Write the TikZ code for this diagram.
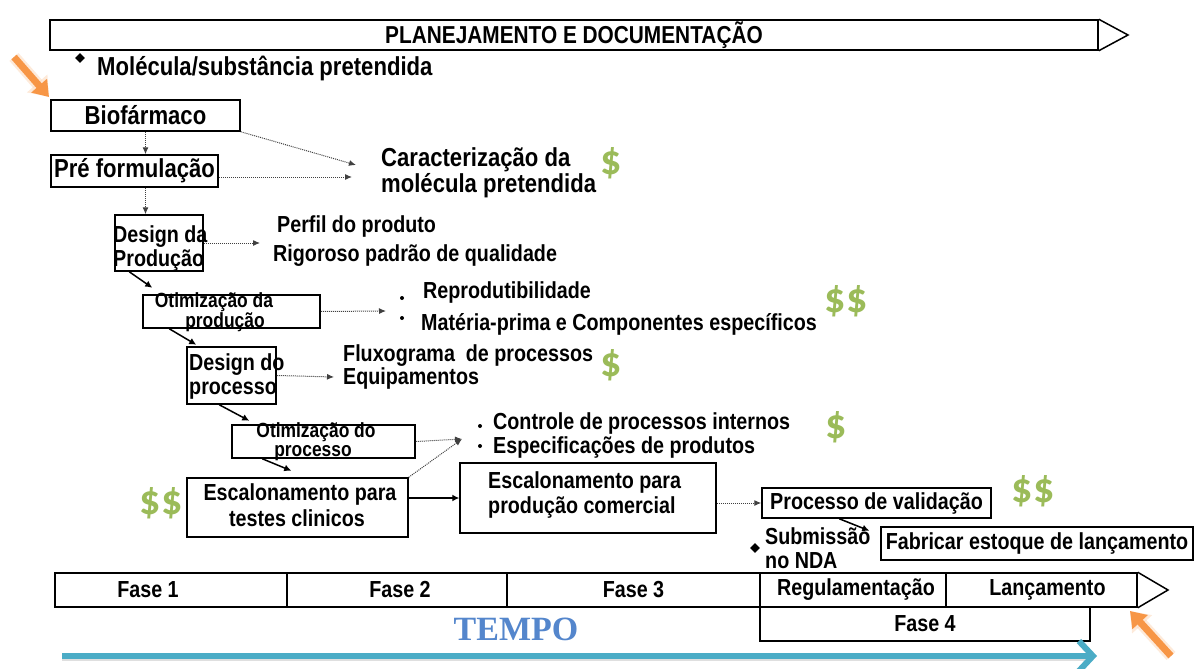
\documentclass[tikz,border=0pt]{standalone}
\usepackage{fontspec}
\setmainfont{Liberation Sans}[FakeStretch=0.85]
\newfontfamily\tempofont{Liberation Serif}
\newfontfamily\dolfont{Carlito}
\usetikzlibrary{arrows.meta,shapes.geometric}
\definecolor{dgreen}{RGB}{155,187,89}
\definecolor{orng}{RGB}{247,150,70}
\definecolor{tealb}{RGB}{75,172,198}
\definecolor{tempoblue}{RGB}{84,134,204}
\newcommand\fbig{\fontsize{26}{27}\selectfont\bfseries}
\newcommand\fmid{\fontsize{23.2}{24}\selectfont\bfseries}
\newcommand\fsma{\fontsize{20.5}{18}\selectfont\bfseries}
\begin{document}
\begin{tikzpicture}[x=1pt,y=-1pt,
  box/.style={draw=black, line width=1.5pt, inner sep=0pt, align=center},
  txt/.style={inner sep=0pt, anchor=base west, font=\fmid},
  ctxt/.style={inner sep=0pt, anchor=base, font=\fmid},
  dotarr/.style={draw=black!75, line width=1pt, densely dotted, -{Latex[length=7pt,width=6pt]}},
  solarr/.style={draw=black, line width=1.5pt, -{Latex[length=7pt,width=7pt]}},
  dol/.style={text=dgreen, inner sep=0pt, font=\dolfont\fontsize{42}{42}\selectfont\bfseries},
  bul/.style={circle, fill=black, inner sep=0pt, minimum size=4pt},
  dia/.style={diamond, fill=black, inner sep=0pt, minimum size=10pt},
  orarrow/.style={orng, line width=7pt, -{Triangle[length=15pt,width=20pt]}},
  glow/.style={orng!40, line width=12pt, opacity=0.5, -{Triangle[length=18pt,width=26pt]}}
]
\useasboundingbox (0,0) rectangle (1195,669);

% top banner
\node[box, minimum width=1048pt, minimum height=30pt, font=\fontsize{24.5}{25}\selectfont\bfseries] (plan) at (574,35) {PLANEJAMENTO E DOCUMENTAÇÃO};
\coordinate (plantip) at (1128,35);
\draw[line width=1.5pt, line join=miter] (plan.north east) -- (plantip) -- (plan.south east);

\node[dia] (d1) at (80,58) {};
\node[txt, font=\fbig] (mol) at (97,76) {Molécula/substância pretendida};

% orange arrows
\coordinate (oa1s) at (14,57);
\coordinate (oa1e) at (49,97);
\draw[glow] (oa1s) -- (oa1e);
\draw[orarrow] (oa1s) -- (oa1e);

% left chain
\node[box, minimum width=189pt, minimum height=31pt, font=\fbig] (bio) at (145.5,115.5) {Biofármaco};
\node[box, minimum width=167pt, minimum height=32pt, font=\fbig] (pre) at (134.5,171) {Pré formulação};
\node[box, minimum width=88pt, minimum height=56pt] (desp) at (159,243) {};
\node[txt] (despt1) at (113,242) {Design da};
\node[txt] (despt2) at (113,266) {Produção};
\node[box, minimum width=177pt, minimum height=33pt] (otp) at (231.5,311.5) {};
\node[ctxt, font=\fsma] (otpt1) at (214,307) {Otimização da};
\node[ctxt, font=\fsma] (otpt2) at (225,327) {produção};
\node[box, minimum width=89pt, minimum height=57pt] (dpr) at (231.5,375.5) {};
\node[txt] (dprt1) at (189,370) {Design do};
\node[txt] (dprt2) at (189,394) {processo};
\node[box, minimum width=183pt, minimum height=33pt] (otc) at (323.5,441.5) {};
\node[ctxt, font=\fsma] (otct1) at (316,437) {Otimização do};
\node[ctxt, font=\fsma] (otct2) at (313,456) {processo};
\node[box, minimum width=221pt, minimum height=59pt] (esc) at (297.5,507.5) {};
\node[ctxt] (esct1) at (300,500) {Escalonamento para};
\node[ctxt] (esct2) at (297,526) {testes clinicos};
\node[box, minimum width=256pt, minimum height=70pt] (escc) at (588,498) {};
\node[txt] (escct1) at (488,488) {Escalonamento para};
\node[txt] (escct2) at (488,513) {produção comercial};
\node[box, minimum width=229pt, minimum height=30pt, font=\fmid] (val) at (876.5,503) {Processo de validação};
\node[box, minimum width=312pt, minimum height=33pt, font=\fmid] (fab) at (1037,543.5) {Fabricar estoque de lançamento};

% right texts
\node[txt, font=\fbig] (car1) at (381,166) {Caracterização da};
\node[txt, font=\fbig] (car2) at (381,192) {molécula pretendida};
\node[txt] (perf) at (277,232) {Perfil do produto};
\node[txt] (rig) at (273,261) {Rigoroso padrão de qualidade};
\node[bul] (b1) at (402,298) {};
\node[bul] (b2) at (402,318) {};
\node[txt] (rep) at (423,298) {Reprodutibilidade};
\node[txt] (mat) at (421,330) {Matéria-prima e Componentes específicos};
\node[txt] (flu) at (343,361) {Fluxograma\ \ de processos};
\node[txt] (equ) at (343,384) {Equipamentos};
\node[bul] (b3) at (480,426) {};
\node[bul] (b4) at (480,446) {};
\node[txt] (con) at (493,429) {Controle de processos internos};
\node[txt] (esp) at (493,453) {Especificações de produtos};
\node[dia] (d2) at (755,548) {};
\node[txt] (sub1) at (765,544) {Submissão};
\node[txt] (sub2) at (765,568) {no NDA};

% dollars
\node[dol] (s1) at (611,163) {\$};
\node[dol] (s2) at (846,301) {\$\$};
\node[dol] (s3) at (611,365) {\$};
\node[dol] (s4) at (836,427) {\$};
\node[dol] (s5) at (161,503) {\$\$};
\node[dol] (s6) at (1033,491) {\$\$};

% connectors
\coordinate (ctip1) at (356,165);
\coordinate (ctip2) at (352,177);
\coordinate (ptip) at (260,243);
\coordinate (rtip) at (386,311);
\coordinate (ftip) at (334,377);
\coordinate (etip) at (462,439);
\draw[dotarr] (bio.south) -- (bio.south |- pre.north);
\draw[dotarr] (bio.south east) -- (ctip1);
\draw[dotarr] (pre.east |- ctip2) -- (ctip2);
\draw[dotarr] (pre.south -| bio.south) -- (desp.north -| bio.south);
\draw[dotarr] (desp.east) -- (ptip);
\draw[dotarr] (otp.east) -- (rtip);
\draw[dotarr] (dpr.east) -- (ftip);
\draw[dotarr] (otc.east) -- (etip);
\draw[dotarr] (esc.north east) -- (etip);
\draw[dotarr] (escc.east |- val.west) -- (val.west);
\draw[solarr] (esc.east |- escc.center) -- (escc.west);
\draw[solarr] ([xshift=15pt]desp.south west) -- ++(23,16);
\draw[solarr] ([xshift=27pt]otp.south west) -- ++(27,16);
\draw[solarr] ([xshift=33pt]dpr.south west) -- ++(30,16);
\draw[solarr] ([xshift=31pt]otc.south west) -- ++(29,12);
\draw[solarr] ([xshift=78pt]val.south west) -- ++(30,12);

% timeline
\node[box, minimum width=232pt, minimum height=34pt, font=\fmid] (f1) at (171,590) {\hspace*{-46pt}Fase 1};
\node[box, minimum width=220pt, minimum height=34pt, font=\fmid] (f2) at (397,590) {\hspace*{6pt}Fase 2};
\node[box, minimum width=253pt, minimum height=34pt, font=\fmid] (f3) at (633.5,590) {Fase 3};
\node[box, minimum width=186pt, minimum height=34pt, font=\fmid] (reg) at (853,590) {\hspace*{6pt}Regulamentação};
\node[box, minimum width=191pt, minimum height=34pt, font=\fmid] (lan) at (1041.5,590) {\hspace*{12pt}Lançamento};
\coordinate (ltip) at (1168,590);
\draw[line width=1.5pt, line join=miter] (lan.north east) -- (ltip) -- (lan.south east);
\node[box, minimum width=330pt, minimum height=34pt, font=\fmid] (f4) at (925,624) {Fase 4};

% tempo
\node[inner sep=0pt, text=tempoblue, font=\tempofont\fontsize{34}{34}\selectfont\bfseries] (tempo) at (516,629) {TEMPO};
\coordinate (ts) at (62,656);
\coordinate (te) at (1097,656);
\draw[black!25, line width=6pt, opacity=0.5] ([yshift=-2pt]ts) -- ([yshift=-2pt,xshift=-10pt]te);
\draw[tealb, line width=6pt, -{Straight Barb[length=14pt,width=30pt]}] (ts) -- (te);

\coordinate (oa2s) at (1171,656);
\coordinate (oa2e) at (1130,611);
\draw[glow] (oa2s) -- (oa2e);
\draw[orarrow] (oa2s) -- (oa2e);
\end{tikzpicture}
\end{document}
